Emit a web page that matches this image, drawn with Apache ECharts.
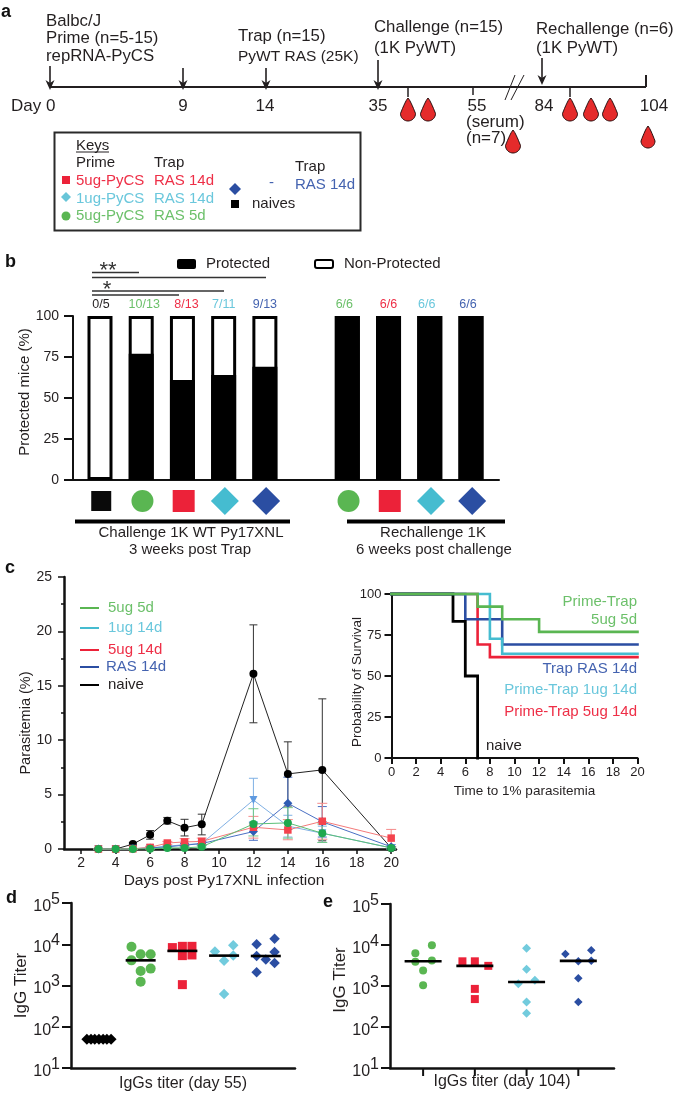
<!DOCTYPE html>
<html><head><meta charset="utf-8">
<style>html,body{margin:0;padding:0;background:#fff}#c{width:675px;height:1095px}</style>
<script src="https://cdn.jsdelivr.net/npm/echarts@6/dist/echarts.min.js"></script>
</head><body><div id="c"></div>
<script>
// ---------- palette ----------
var GREEN='#5ab652',CYAN='#45bcd0',RED='#ec2239',BLUE='#2b4ea2',INK='#231f20';
var tGREEN='#6cc06a',tCYAN='#6ac7dc',tRED='#ee2f47',tBLUE='#4463b0';
var FONT='"Liberation Sans",Arial,sans-serif';

// ---------- panel b ----------
var barX=[1,2,3,4,5,7,8,9,10];
var protectedPct=[0,77,61,64,69,100,100,100,100];
var nonProtectedPct=[100,100,100,100,100,100,100,100,100];
var nLabels=['0/5','10/13','8/13','7/11','9/13','6/6','6/6','6/6','6/6'];
var nColors=[INK,tGREEN,tRED,tCYAN,tBLUE,tGREEN,tRED,tCYAN,tBLUE];
var nNudge=[1,3,4,0,0,-3,0,-3,-3];
var bSymbols=['rect','circle','rect','diamond','diamond','circle','rect','diamond','diamond'];
var bSymbolSizes=[20,22,22,28,28,22,22,28,28];
var bSymbolColors=['#0a0a0a',GREEN,RED,CYAN,BLUE,GREEN,RED,CYAN,BLUE];

// ---------- panel c left ----------
var days=[3,4,5,6,7,8,9,12,14,16,20];
var naive    =[0,0,0.45,1.3,2.6,1.96,2.27,16.1,6.9,7.27,0.1];
var naiveHi  =[0,0,0.6,1.7,2.9,2.73,3.2,20.6,9.85,13.8,0.2];
var naiveLo  =[0,0,0.3,0.9,2.3,1.2,1.3,11.6,3.95,0.75,0];
var ug1      =[0,0,0.02,0.1,0.25,0.4,0.5,4.5,2.1,1.45,0.1];
var ug1Hi    =[0,0,0.04,0.2,0.35,0.55,0.7,6.5,3.1,2.1,0.2];
var ug1Lo    =[0,0,0,0.02,0.15,0.25,0.3,2.5,1.1,0.6,0];
var ras      =[0,0,0.02,0.1,0.2,0.35,0.5,1.6,4.2,2.5,0.2];
var rasHi    =[0,0,0.04,0.2,0.3,0.5,0.7,2.4,6.6,3.9,0.4];
var rasLo    =[0,0,0,0.02,0.1,0.2,0.3,0.8,1.8,1.1,0];
var ug5      =[0,0,0.02,0.15,0.55,0.65,0.7,2,1.75,2.55,1];
var ug5Hi    =[0,0,0.05,0.25,0.7,0.95,1,3,2.7,4.2,1.8];
var ug5Lo    =[0,0,0,0.05,0.4,0.35,0.4,1,0.85,0.9,0.2];
var ug5d     =[0,0,0,0.02,0.1,0.1,0.2,2.3,2.4,1.45,0.1];
var ug5dHi   =[0,0,0,0.05,0.15,0.2,0.35,3.7,3.8,2.3,0.2];
var ug5dLo   =[0,0,0,0,0.05,0.03,0.08,1.2,1,0.6,0];
var evenDays=[2,4,6,8,10,12,14,16,18,20];

// ---------- panel c right (time, % survival) ----------
var kmNaive=[[0,100],[5,83.3],[6,50],[7,0]];
var kmRed  =[[0,100],[7,69.2],[8,61.5],[20,61.5]];
var kmBlue =[[0,100],[6,84.6],[9,69.2],[20,69.2]];
var kmCyan =[[0,100],[8,72.7],[9,63.6],[20,63.6]];
var kmGreen=[[0,100],[7,92.3],[9,84.6],[12,76.9],[20,76.9]];

// ---------- panel d ----------
var dNaive=[[-0.29,50],[-0.19,50],[-0.1,50],[0,50],[0.1,50],[0.19,50],[0.29,50]];
var dGreen=[[0.78,8700],[1,5700],[1.24,5700],[0.78,4070],[1.24,2570],[1,2240],[1,1230]];
var dRed=[[1.76,8300],[2,8900],[2,5300],[2.23,8900],[2.23,5500],[2,1050]];
var dCyan=[[2.78,6700],[3.22,9400],[3.22,5300],[3,4000],[3,620]];
var dBlue=[[3.78,10000],[4.21,13600],[4.21,6500],[3.78,5190],[4,4250],[4.21,3500],[3.78,2100]];
var dMedians=[[1,4070],[2,6900],[3,5300],[4,5190]];

// ---------- panel e ----------
var eGreen=[[0.17,9800],[-0.15,6300],[-0.15,3900],[0.17,4200],[0,2400],[0,1050]];
var eRed=[[0.76,4000],[1,4000],[1.26,3100],[1,850],[1,480]];
var eCyan=[[2,8300],[2,2570],[2.16,1390],[1.84,1130],[2,410],[2,215]];
var eBlue=[[2.75,6000],[3.25,7400],[3,4000],[3.25,4150],[3,1540],[3,410]];
var eMedians=[[0,4000],[1,3100],[2,1250],[3,4100]];
var eTicks=[[0,10],[1,10],[2,10],[3,10]];

// ---------- helpers ----------
var g=[];
function T(x,y,s,o){o=o||{};g.push({type:'text',x:x,y:y,silent:true,z:50,rotation:o.rot||0,style:{text:s,fill:o.c||INK,
  fontSize:o.s||15,fontFamily:FONT,fontWeight:o.w||'normal',textAlign:o.a||'left',textVerticalAlign:'middle'}});}
function L(x1,y1,x2,y2,c,w){g.push({type:'line',silent:true,z:40,shape:{x1:x1,y1:y1,x2:x2,y2:y2},style:{stroke:c||INK,lineWidth:w||1.5}});}
function arrow(x,y1,y2){L(x,y1,x,y2-3,INK,1.6);g.push({type:'polygon',silent:true,z:41,shape:{points:[[x-4.5,y2-10],[x,y2-7],[x+4.5,y2-10],[x,y2]]},style:{fill:INK}});}
function drop(cx,top,w,h){
  var r=w/2,cy=top+h-r,pts=[[cx,top]],i,a;
  for(i=1;i<=6;i++){var t=i/6;pts.push([cx+r*Math.pow(t,0.8),top+(cy-top)*t]);}
  for(i=1;i<=18;i++){a=Math.PI*i/18;pts.push([cx+r*Math.cos(a),cy+r*Math.sin(a)]);}
  for(i=5;i>=1;i--){var u=i/6;pts.push([cx-r*Math.pow(u,0.8),top+(cy-top)*u]);}
  g.push({type:'polygon',silent:true,z:41,shape:{points:pts},style:{fill:'#e52b2b',stroke:'#2a1010',lineWidth:1}});
}
function sq(x,y,s,c){g.push({type:'rect',silent:true,z:41,shape:{x:x-s/2,y:y-s/2,width:s,height:s},style:{fill:c}});}
function dia(x,y,r,c){g.push({type:'polygon',silent:true,z:41,shape:{points:[[x,y-r],[x+r,y],[x,y+r],[x-r,y]]},style:{fill:c}});}
function circ(x,y,r,c){g.push({type:'circle',silent:true,z:41,shape:{cx:x,cy:y,r:r},style:{fill:c}});}

// ---------- panel a ----------
T(1,12,'a',{s:18,w:'bold',c:'#111'});
T(46,21,'Balbc/J',{s:16.8});T(46,38,'Prime (n=5-15)',{s:16.8});T(46,56,'repRNA-PyCS',{s:16.8});
T(238,36,'Trap (n=15)',{s:16.8});T(238,57,'PyWT RAS (25K)',{s:15.5});
T(374,27,'Challenge (n=15)',{s:16.8});T(374,48,'(1K PyWT)',{s:16.8});
T(536,29,'Rechallenge (n=6)',{s:16.8});T(536,48,'(1K PyWT)',{s:16.8});
L(50,87,646,87,INK,2.2);
arrow(50,66,90);arrow(183,68,90);arrow(266,68,90);arrow(378,60,90);arrow(542,58,85);
L(408,87,408,97);L(473,87,473,95);L(570,87,570,97);L(646,75,646,87,INK,2);
L(505,100,515,75,INK,1);L(511,100,524,75,INK,1);
T(11,106,'Day 0',{s:17});T(183,106,'9',{s:17,a:'center'});T(265,106,'14',{s:17,a:'center'});T(378,106,'35',{s:17,a:'center'});
T(477,106,'55',{s:17,a:'center'});T(466,122,'(serum)',{s:17});T(466,138,'(n=7)',{s:17});
T(544,106,'84',{s:17,a:'center'});T(654,106,'104',{s:17,a:'center'});
drop(408,98,15,23);drop(428,98,15,23);drop(513,130,15,23);drop(570,98,15,23);drop(591,98,15,23);drop(610,98,15,23);drop(648,126,14,22);
g.push({type:'rect',silent:true,z:39,shape:{x:54.5,y:132.5,width:306,height:98},style:{fill:'#fff',stroke:'#2a2a2a',lineWidth:2}});
T(76,146,'Keys',{s:15});L(76,152,109,152,INK,1);
T(76,163,'Prime',{s:15});T(154,163,'Trap',{s:15});
T(76,181,'5ug-PyCS',{s:15,c:tRED});T(154,181,'RAS 14d',{s:15,c:tRED});
T(76,199,'1ug-PyCS',{s:15,c:tCYAN});T(154,199,'RAS 14d',{s:15,c:tCYAN});
T(76,216,'5ug-PyCS',{s:15,c:tGREEN});T(154,216,'RAS 5d',{s:15,c:tGREEN});
sq(66,180,8,RED);dia(66,197,5,'#68c5d8');circ(66,216,4.5,GREEN);
dia(235,189,6,BLUE);sq(235,204,8,'#000');
T(269,183,'-',{s:15,c:tBLUE});T(295,167,'Trap',{s:15});T(295,185,'RAS 14d',{s:15,c:tBLUE});T(252,204,'naives',{s:15});

// ---------- panel b annotations ----------
T(5,262,'b',{s:18,w:'bold',c:'#111'});
g.push({type:'rect',silent:true,z:41,shape:{x:177,y:259,width:19,height:10,r:2},style:{fill:'#000'}});
T(206,264,'Protected',{s:15});
g.push({type:'rect',silent:true,z:41,shape:{x:315,y:260,width:18,height:8,r:2},style:{fill:'#fff',stroke:'#000',lineWidth:2}});
T(344,264,'Non-Protected',{s:15});
L(92,272.5,139,272.5,'#333',1.5);L(92,277.5,266,277.5,'#333',1.5);L(92,291,224,291,'#333',1.5);L(92,295,179,295,'#333',1.5);
T(108,271,'**',{s:22,a:'center',c:'#333'});T(107,290,'*',{s:22,a:'center',c:'#333'});
L(75,521.5,290,521.5,'#000',4);L(347,521.5,505,521.5,'#000',4);
T(191,533,'Challenge 1K WT Py17XNL',{s:15,a:'center'});T(190,550,'3 weeks post Trap',{s:15,a:'center'});
T(433,533,'Rechallenge 1K',{s:15,a:'center'});T(434,550,'6 weeks post challenge',{s:15,a:'center'});

// ---------- panel c annotations ----------
T(5,568,'c',{s:18,w:'bold',c:'#111'});
[[608,GREEN,'5ug 5d',tGREEN,108],[628,CYAN,'1ug 14d',tCYAN,108],[650,RED,'5ug 14d',tRED,108],[667,BLUE,'RAS 14d',tBLUE,106],[685,'#000','naive',INK,108]].forEach(function(r){
  L(80,r[0],99,r[0],r[1],2);T(r[4],r[0],r[2],{s:15,c:r[3]});});
T(637,602,'Prime-Trap',{s:15,a:'right',c:tGREEN});T(637,620,'5ug 5d',{s:15,a:'right',c:tGREEN});
T(637,669,'Trap RAS 14d',{s:15,a:'right',c:tBLUE});T(637,690,'Prime-Trap 1ug 14d',{s:15,a:'right',c:tCYAN});
T(637,712,'Prime-Trap 5ug 14d',{s:15,a:'right',c:tRED});T(486,746,'naive',{s:15});

// ---------- panels d / e annotations ----------
T(6,898,'d',{s:18,w:'bold',c:'#111'});T(323,902,'e',{s:18,w:'bold',c:'#111'});

// ---------- axis helpers ----------
function axisBase(w){return {nameMoveOverlap:false,axisLine:{show:true,onZero:false,lineStyle:{color:'#111',width:w||2}},axisTick:{show:true,length:6,lineStyle:{color:'#111',width:w||2}},
  splitLine:{show:false},axisLabel:{color:INK,fontFamily:FONT,fontSize:14}};}
function merge(a,b){for(var k in b)a[k]=b[k];return a;}
function nameStyle(s,p){return {color:INK,fontFamily:FONT,fontSize:s,padding:p||0};}
function logAxis(idx,gap,pad){return merge(axisBase(2.5),{type:'log',logBase:10,min:10,max:100000,gridIndex:idx,name:'IgG Titer',nameLocation:'middle',nameGap:gap,nameTextStyle:nameStyle(17,pad),
  axisTick:{show:true,length:9,lineStyle:{color:'#111',width:2}},
  axisLabel:{margin:11,formatter:function(v){return '{b|10}{s|'+Math.round(Math.log10(v))+'}';},rich:{
    b:{fontSize:16,fontFamily:FONT,color:INK,lineHeight:23,verticalAlign:'bottom'},
    s:{fontSize:16,fontFamily:FONT,color:INK,lineHeight:23,verticalAlign:'top'}}}});}
function pts(name,data,sym,size,color,x,y){return {name:name,type:'scatter',xAxisIndex:x,yAxisIndex:y,data:data,symbol:sym,symbolSize:size,itemStyle:{color:color,opacity:1},clip:false,z:3};}
function med(name,data,w,x,y){return {name:name,type:'scatter',xAxisIndex:x,yAxisIndex:y,data:data,symbol:'rect',symbolSize:[w,2.6],itemStyle:{color:'#000',opacity:1},clip:false,z:5};}

function errSeries(name,hi,lo,color,cap){
  return {name:name+' error',type:'custom',xAxisIndex:1,yAxisIndex:1,clip:false,z:2,encode:{x:0,y:[1,2]},
    data:days.map(function(d,i){return [d,lo[i],hi[i]];}),
    renderItem:function(p,api){
      var a=api.coord([api.value(0),api.value(1)]),b=api.coord([api.value(0),api.value(2)]),s={stroke:color,lineWidth:1};
      return {type:'group',children:[
        {type:'line',shape:{x1:a[0],y1:a[1],x2:b[0],y2:b[1]},style:s},
        {type:'line',shape:{x1:a[0]-cap,y1:a[1],x2:a[0]+cap,y2:a[1]},style:s},
        {type:'line',shape:{x1:b[0]-cap,y1:b[1],x2:b[0]+cap,y2:b[1]},style:s}]};
    }};
}
function lineSeries(name,vals,color,mark,sym,size,z,rot){
  return {name:name,type:'line',xAxisIndex:1,yAxisIndex:1,data:days.map(function(d,i){return [d,vals[i]];}),clip:false,z:z,
    lineStyle:{color:color,width:1},itemStyle:{color:mark},symbol:sym,symbolSize:size,symbolRotate:rot||0,showSymbol:true};
}
function km(name,data,color,w,z){return {name:name,type:'line',step:'end',xAxisIndex:2,yAxisIndex:2,data:data,symbol:'none',clip:false,z:z,lineStyle:{color:color,width:w||2.6,cap:'square',join:'miter'}};}

var option={
  animation:false,backgroundColor:'#fff',graphic:{elements:g},
  grid:[
    {left:73,top:316,width:426,height:164},
    {left:64,top:577,width:332,height:272},
    {left:391.5,top:594,width:246,height:164},
    {left:71,top:903,width:224,height:165},
    {left:390,top:904,width:224,height:164}
  ],
  xAxis:[
    merge(axisBase(2),{type:'value',gridIndex:0,min:0.345,max:10.68,axisTick:{show:false},axisLabel:{show:false}}),
    merge(axisBase(2.5),{type:'value',gridIndex:1,min:1,max:20.28,name:'Days post Py17XNL infection',nameLocation:'middle',nameGap:24,nameTextStyle:nameStyle(15.5,[0,12,0,0]),
      axisTick:{show:true,length:5,customValues:evenDays,lineStyle:{color:'#111',width:1.5}},
      axisLabel:{color:INK,fontFamily:FONT,fontSize:14,margin:7,customValues:evenDays}}),
    merge(axisBase(2),{type:'value',gridIndex:2,min:0,max:20,interval:2,name:'Time to 1% parasitemia',nameLocation:'middle',nameGap:26,nameTextStyle:nameStyle(13.5,[0,0,0,20]),
      axisLabel:{color:INK,fontFamily:FONT,fontSize:13,margin:8,showMinLabel:true,showMaxLabel:true}}),
    merge(axisBase(2.5),{type:'value',gridIndex:3,min:-0.67,max:4.7,name:'IgGs titer (day 55)',nameLocation:'middle',nameGap:8,nameTextStyle:nameStyle(16),axisTick:{show:false},axisLabel:{show:false}}),
    merge(axisBase(2.5),{type:'value',gridIndex:4,min:-0.64,max:3.69,name:'IgGs titer (day 104)',nameLocation:'middle',nameGap:6,nameTextStyle:nameStyle(16),axisTick:{show:false},axisLabel:{show:false}})
  ],
  yAxis:[
    merge(axisBase(2),{type:'value',gridIndex:0,min:0,max:100,interval:25,name:'Protected mice (%)',nameLocation:'middle',nameGap:41,nameTextStyle:nameStyle(15,[0,0,0,12]),axisTick:{show:true,length:9,lineStyle:{color:'#111',width:2}},axisLabel:{color:INK,fontFamily:FONT,fontSize:14,margin:14}}),
    merge(axisBase(2.5),{type:'value',gridIndex:1,min:0,max:25,interval:5,name:'Parasitemia (%)',nameLocation:'middle',nameGap:31,nameTextStyle:nameStyle(14.5,[0,20,0,0]),
      axisTick:{show:true,length:6,lineStyle:{color:'#111',width:1.5}},minorTick:{show:true,splitNumber:2,length:3,lineStyle:{color:'#111',width:1.5}},axisLabel:{color:INK,fontFamily:FONT,fontSize:14,margin:12}}),
    merge(axisBase(2),{type:'value',gridIndex:2,min:0,max:100,interval:25,name:'Probability of Survival',nameLocation:'middle',nameGap:27,nameTextStyle:nameStyle(13.5,[0,12,0,0]),axisLabel:{color:INK,fontFamily:FONT,fontSize:13,margin:10},axisTick:{show:true,length:7,lineStyle:{color:'#111',width:2}}}),
    logAxis(3,41),
    logAxis(4,41,[0,0,0,12])
  ],
  series:[
    // panel b
    {name:'Non-Protected',type:'bar',xAxisIndex:0,yAxisIndex:0,barWidth:25,barGap:'-100%',clip:false,z:2,
      data:barX.map(function(x,i){return {value:[x,nonProtectedPct[i]],label:{show:true,position:'top',distance:5,offset:[nNudge[i],0],formatter:nLabels[i],color:nColors[i],fontSize:12.5,fontFamily:FONT}};}),
      itemStyle:{color:'#fff',borderColor:'#000',borderWidth:3}},
    {name:'Protected',type:'bar',xAxisIndex:0,yAxisIndex:0,barWidth:25,barGap:'-100%',clip:false,z:3,
      data:barX.map(function(x,i){return {value:[x,protectedPct[i]],itemStyle:{borderWidth:protectedPct[i]?3:0}};}),
      itemStyle:{color:'#000',borderColor:'#000'}},
    {name:'Group symbols',type:'scatter',xAxisIndex:0,yAxisIndex:0,clip:false,z:3,
      data:barX.map(function(x,i){return {value:[x+0.03,-12.8],symbol:bSymbols[i],symbolSize:bSymbolSizes[i],itemStyle:{color:bSymbolColors[i],opacity:1}};})},
    // panel c left
    errSeries('naive',naiveHi,naiveLo,'#333',4),
    errSeries('1ug 14d',ug1Hi,ug1Lo,'#7fb0e4',4.5),
    errSeries('RAS 14d',rasHi,rasLo,'#4a70c4',4.5),
    errSeries('5ug 14d',ug5Hi,ug5Lo,'#f58a8a',5),
    errSeries('5ug 5d',ug5dHi,ug5dLo,'#72c98a',5),
    lineSeries('naive',naive,'#222','#000','circle',8,3),
    lineSeries('1ug 14d',ug1,'#7fb0e4','#5f9ae0','triangle',8,4,180),
    lineSeries('RAS 14d',ras,'#4a70c4','#2f5cb4','diamond',9,5),
    lineSeries('5ug 14d',ug5,'#f47a7a','#f4434d','rect',7.5,6),
    lineSeries('5ug 5d',ug5d,'#5cc078','#1fa84e','circle',8,7),
    // panel c right
    km('Prime-Trap 5ug 14d',kmRed,RED,2.6,3),
    km('Trap RAS 14d',kmBlue,BLUE,2.6,4),
    km('naive',kmNaive,'#000',2.8,5),
    km('Prime-Trap 1ug 14d',kmCyan,CYAN,2.6,6),
    km('Prime-Trap 5ug 5d',kmGreen,GREEN,2.6,7),
    // panel d
    pts('naives',dNaive,'diamond',11,'#000',3,3),
    pts('5ug-PyCS RAS 5d',dGreen,'circle',10,GREEN,3,3),
    pts('5ug-PyCS RAS 14d',dRed,'rect',9,RED,3,3),
    pts('1ug-PyCS RAS 14d',dCyan,'diamond',10.5,'#72cbdd',3,3),
    pts('RAS 14d',dBlue,'diamond',10.5,BLUE,3,3),
    med('Median',dMedians,30,3,3),
    // panel e
    pts('5ug-PyCS RAS 5d',eGreen,'circle',8,GREEN,4,4),
    pts('5ug-PyCS RAS 14d',eRed,'rect',8,RED,4,4),
    pts('1ug-PyCS RAS 14d',eCyan,'diamond',9,'#72cbdd',4,4),
    pts('RAS 14d',eBlue,'diamond',8.5,BLUE,4,4),
    med('Median',eMedians,37,4,4),
    {name:'Group ticks',type:'scatter',xAxisIndex:4,yAxisIndex:4,data:eTicks,symbol:'rect',symbolSize:[2,8],symbolOffset:[0,4],itemStyle:{color:'#111',opacity:1},clip:false,z:1}
  ]
};
var chart=echarts.init(document.getElementById('c'),null,{renderer:'canvas'});
chart.setOption(option);
</script></body></html>
